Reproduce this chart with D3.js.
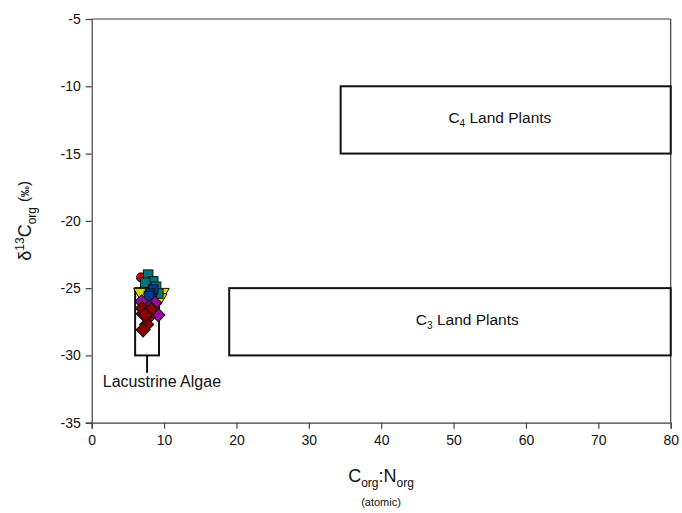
<!DOCTYPE html>
<html>
<head>
<meta charset="utf-8">
<script src="https://cdn.jsdelivr.net/npm/d3@7"></script>
<style>
  html, body { margin: 0; padding: 0; background: #fff; }
  svg { display: block; font-family: "Liberation Sans", Arial, sans-serif; }
</style>
</head>
<body>
<svg id="chart" width="682" height="513"></svg>
<script>
// Axis domains and tick values
const xDomain = [0, 80];
const yDomain = [-35, -5];
const xTicks = [0, 10, 20, 30, 40, 50, 60, 70, 80];
const yTicks = [-35, -30, -25, -20, -15, -10, -5];

// Source fields: [C:N min, C:N max, d13C top, d13C bottom]
const fieldNames = ["C4", "C3", "Lacustrine Algae"];
const fieldC4 = [34.4, 80, -10, -15];
const fieldC3 = [19, 80, -25, -30];
const fieldAlgae = [6, 9.3, -25, -30];
// Label anchors [C:N, d13C]
const labelC4 = [56.4, -12.7];
const labelC3 = [51.9, -27.75];
const labelAlgae = [9.7, -32.35];

// Sample measurements [C:N, d13C]
const samplesYellow = [[6.7, -25.3], [9.8, -25.3], [9.5, -25.7]];
const samplesRed = [[6.8, -24.2]];
const samplesTeal = [[7.8, -24.0], [8.5, -24.5], [8.9, -24.9], [7.4, -24.6], [9.2, -25.4]];
const samplesBlue = [[8.5, -25.1], [8.05, -25.4], [8.3, -25.8], [7.9, -25.6]];
const samplesPurple = [[6.9, -26.0], [8.75, -26.1], [9.2, -27.0], [8.0, -26.4]];
const samplesDarkRed = [[7.1, -26.9], [7.8, -27.2], [7.6, -27.7], [7.1, -28.1], [7.0, -26.5], [8.2, -26.6], [7.4, -27.0]];

const svg = d3.select("#chart");
const plotL = 91.7, plotR = 670.7, plotT = 19, plotB = 422.7;

const x = d3.scaleLinear().domain(xDomain).range([plotL, plotR]);
const y = d3.scaleLinear().domain(yDomain).range([plotB, plotT]);

const axisColor = "#404040";

// Frame lines on top and right
svg.append("line").attr("x1", plotL).attr("x2", plotR).attr("y1", plotT).attr("y2", plotT)
  .attr("stroke", axisColor).attr("stroke-width", 1.2);
svg.append("line").attr("x1", plotR).attr("x2", plotR).attr("y1", plotT).attr("y2", plotB)
  .attr("stroke", axisColor).attr("stroke-width", 1.2);

// Axes
const xAxis = svg.append("g").attr("transform", `translate(0,${plotB})`)
  .call(d3.axisBottom(x).tickValues(xTicks).tickSize(6).tickPadding(6).tickFormat(d3.format("d")));
const yAxis = svg.append("g").attr("transform", `translate(${plotL},0)`)
  .call(d3.axisLeft(y).tickValues(yTicks).tickSize(6).tickPadding(5).tickFormat(d => String(d)));

[xAxis, yAxis].forEach(g => {
  g.select(".domain").attr("stroke", axisColor).attr("stroke-width", 1.2);
  g.selectAll(".tick line").attr("stroke", axisColor).attr("stroke-width", 1.2);
  g.selectAll(".tick text").attr("fill", "#111").style("font-size", "14px")
    .style("font-family", "'Liberation Sans', Arial, sans-serif");
});

// Source field rectangles
function field(rect) {
  svg.append("rect")
    .attr("x", x(rect[0])).attr("y", y(rect[2]))
    .attr("width", x(rect[1]) - x(rect[0]))
    .attr("height", y(rect[3]) - y(rect[2]))
    .attr("fill", "none").attr("stroke", "#111").attr("stroke-width", 2);
}
field(fieldC4);
field(fieldC3);
field(fieldAlgae);

// Leader line from the algae box to its label
const algaeMid = (fieldAlgae[0] + fieldAlgae[1]) / 2;
svg.append("line")
  .attr("x1", x(algaeMid)).attr("x2", x(algaeMid))
  .attr("y1", y(fieldAlgae[3])).attr("y2", y(-31.3))
  .attr("stroke", "#111").attr("stroke-width", 2);

// Field labels
function subLabel(pos, main, sub, rest) {
  const t = svg.append("text").attr("x", x(pos[0])).attr("y", y(pos[1]))
    .attr("text-anchor", "middle").style("font-size", "15.5px").attr("fill", "#111");
  t.append("tspan").text(main);
  t.append("tspan").attr("dy", 4).style("font-size", "10px").text(sub);
  t.append("tspan").attr("dy", -4).text(rest);
}
subLabel(labelC4, "C", "4", " Land Plants");
subLabel(labelC3, "C", "3", " Land Plants");

svg.append("text").attr("x", x(labelAlgae[0])).attr("y", y(labelAlgae[1]))
  .attr("text-anchor", "middle").style("font-size", "16px").attr("fill", "#111")
  .text(fieldNames[2]);

// Sample markers
const g = svg.append("g");
function diamonds(data, fill, size) {
  g.selectAll(null).data(data).enter().append("rect")
    .attr("x", -size / 2).attr("y", -size / 2).attr("width", size).attr("height", size)
    .attr("transform", d => `translate(${x(d[0])},${y(d[1])}) rotate(45)`)
    .attr("fill", fill).attr("stroke", "#111").attr("stroke-width", 1);
}
function squares(data, fill, size) {
  g.selectAll(null).data(data).enter().append("rect")
    .attr("x", d => x(d[0]) - size / 2).attr("y", d => y(d[1]) - size / 2)
    .attr("width", size).attr("height", size)
    .attr("fill", fill).attr("stroke", "#111").attr("stroke-width", 1);
}
function triangles(data, fill, size) {
  const sym = d3.symbol().type(d3.symbolTriangle).size(size);
  g.selectAll(null).data(data).enter().append("path")
    .attr("d", sym)
    .attr("transform", d => `translate(${x(d[0])},${y(d[1])}) rotate(180)`)
    .attr("fill", fill).attr("stroke", "#111").attr("stroke-width", 1);
}
function circles(data, fill, r) {
  g.selectAll(null).data(data).enter().append("circle")
    .attr("cx", d => x(d[0])).attr("cy", d => y(d[1])).attr("r", r)
    .attr("fill", fill).attr("stroke", "#111").attr("stroke-width", 1);
}
triangles(samplesYellow, "#d8d800", 75);
circles(samplesRed, "#d00000", 4.5);
squares(samplesTeal, "#007878", 9.5);
squares(samplesBlue, "#003c8c", 9.5);
diamonds(samplesPurple, "#9a0a9a", 9.5);
diamonds(samplesDarkRed, "#8a0000", 10);

// Axis titles
const yt = svg.append("text")
  .attr("transform", `translate(31,${(plotT + plotB) / 2}) rotate(-90)`)
  .attr("text-anchor", "middle").style("font-size", "18px").attr("fill", "#111");
yt.append("tspan").text("δ");
yt.append("tspan").attr("dy", -7).style("font-size", "12px").text("13");
yt.append("tspan").attr("dy", 7).text("C");
yt.append("tspan").attr("dy", 5).style("font-size", "12px").text("org");
yt.append("tspan").attr("dy", -5).text(" ");
yt.append("tspan").style("font-size", "15px").attr("dy", -2).text("(");
yt.append("tspan").style("font-size", "11px").style("font-weight", "bold").text("‰");
yt.append("tspan").style("font-size", "15px").text(")");

const xt = svg.append("text")
  .attr("x", 381).attr("y", 482)
  .attr("text-anchor", "middle").style("font-size", "18px").attr("fill", "#111");
xt.append("tspan").text("C");
xt.append("tspan").attr("dy", 5).style("font-size", "12px").text("org");
xt.append("tspan").attr("dy", -5).text(":N");
xt.append("tspan").attr("dy", 5).style("font-size", "12px").text("org");

svg.append("text").attr("x", 381).attr("y", 506)
  .attr("text-anchor", "middle").style("font-size", "11px").attr("fill", "#111")
  .text("(atomic)");
</script>
</body>
</html>
